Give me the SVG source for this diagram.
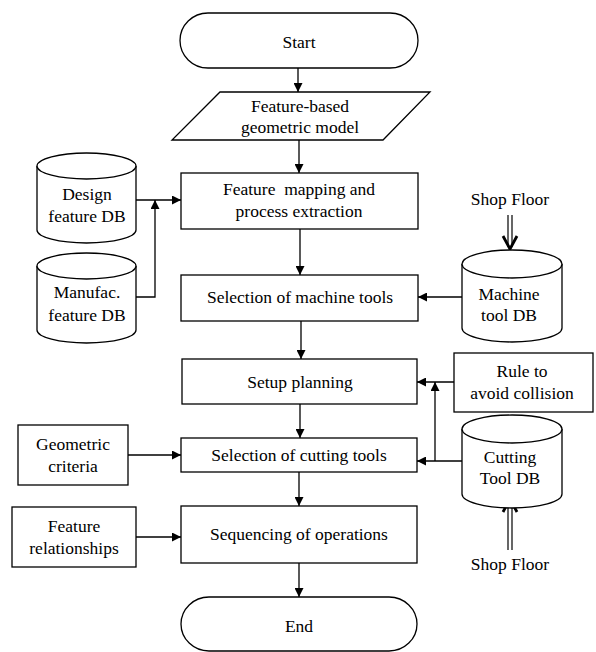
<svg xmlns="http://www.w3.org/2000/svg" width="596" height="652" viewBox="0 0 596 652">
<defs>
<marker id="ah" viewBox="0 0 10 10" refX="10" refY="5" markerWidth="9" markerHeight="9" markerUnits="userSpaceOnUse" orient="auto">
<path d="M0,0 L10,5 L0,10 z" fill="#000"/>
</marker>
</defs>
<style>
.s{fill:#fff;stroke:#000;stroke-width:1.3}
text{font-family:'Liberation Serif','DejaVu Serif','Times New Roman',serif;font-size:17.5px;fill:#000;text-anchor:middle;white-space:pre}
.c{fill:none;stroke:#000;stroke-width:1.3}
.a{marker-end:url(#ah)}
.d{fill:none;stroke:#000;stroke-width:1.2}
.v{fill:none;stroke:#000;stroke-width:2.8}
</style>
<rect width="596" height="652" fill="#fff"/>
<g id="connectors">
<line class="c a" x1="298" y1="68" x2="298" y2="92"/>
<line class="c a" x1="299" y1="140" x2="299" y2="173"/>
<line class="c a" x1="136" y1="200" x2="181" y2="200"/>
<polyline class="c a" points="136,297 155,297 155,200"/>
<line class="c a" x1="300" y1="229" x2="300" y2="275"/>
<line class="c a" x1="462" y1="297" x2="418" y2="297"/>
<line class="c a" x1="301" y1="321" x2="301" y2="359"/>
<line class="c a" x1="454" y1="382" x2="417" y2="382"/>
<line class="c a" x1="300" y1="404" x2="300" y2="438"/>
<line class="c a" x1="462" y1="461" x2="417" y2="461"/>
<polyline class="c a" points="435,461 435,382"/>
<line class="c a" x1="128" y1="455" x2="181" y2="455"/>
<line class="c a" x1="299" y1="472" x2="299" y2="506"/>
<line class="c a" x1="136" y1="537" x2="181" y2="537"/>
<line class="c a" x1="299" y1="563" x2="299" y2="597"/>
<line class="d" x1="508" y1="215" x2="508" y2="247"/>
<line class="d" x1="512" y1="215" x2="512" y2="247"/>
<polyline class="v" points="503,236 510,249 517,236"/>
<line class="d" x1="508" y1="550" x2="508" y2="502"/>
<line class="d" x1="512" y1="550" x2="512" y2="502"/>
<polyline class="v" points="503,512 510,499 517,512"/>
</g>
<g id="start">
<rect class="s" x="180" y="13" width="238" height="55" rx="28" ry="27.5"/>
<text x="299" y="48">Start</text>
</g>
<g id="model">
<polygon class="s" points="220,92 430,92 383,140 172,140"/>
<text x="300" y="112">Feature-based</text>
<text x="300" y="133">geometric model</text>
</g>
<g id="mapping">
<rect class="s" x="181" y="173" width="237" height="56"/>
<text x="299" y="195">Feature  mapping and</text>
<text x="299" y="217">process extraction</text>
</g>
<g id="designdb">
<path class="s" d="M37,166 L37,230 A49.5,13 0 0 0 136,230 L136,166"/>
<ellipse class="s" cx="86.5" cy="166" rx="49.5" ry="13"/>
<text x="87" y="200">Design</text>
<text x="87" y="222">feature DB</text>
</g>
<g id="manufdb">
<path class="s" d="M37,266 L37,330 A49.5,13 0 0 0 136,330 L136,266"/>
<ellipse class="s" cx="86.5" cy="266" rx="49.5" ry="13"/>
<text x="87" y="298">Manufac.</text>
<text x="87" y="321">feature DB</text>
</g>
<g id="machine">
<rect class="s" x="181" y="275" width="237" height="46"/>
<text x="300" y="303">Selection of machine tools</text>
</g>
<g id="shopfloor1">
<text x="510" y="205">Shop Floor</text>
</g>
<g id="machinedb">
<path class="s" d="M462,264 L462,328 A50,14 0 0 0 562,328 L562,264"/>
<ellipse class="s" cx="512" cy="264" rx="50" ry="14"/>
<text x="509" y="300">Machine</text>
<text x="509" y="321">tool DB</text>
</g>
<g id="setup">
<rect class="s" x="182" y="359" width="235" height="45"/>
<text x="300" y="388">Setup planning</text>
</g>
<g id="rule">
<rect class="s" x="454" y="353" width="139" height="59"/>
<text x="522" y="377">Rule to</text>
<text x="522" y="399">avoid collision</text>
</g>
<g id="cutting">
<rect class="s" x="181" y="438" width="236" height="34"/>
<text x="299" y="461">Selection of cutting tools</text>
</g>
<g id="cuttingdb">
<path class="s" d="M462,429 L462,494 A50,14 0 0 0 562,494 L562,429"/>
<ellipse class="s" cx="512" cy="429" rx="50" ry="14"/>
<text x="510" y="463">Cutting</text>
<text x="510" y="484">Tool DB</text>
</g>
<g id="geometric">
<rect class="s" x="18" y="425" width="110" height="60"/>
<text x="73" y="450">Geometric</text>
<text x="73" y="472">criteria</text>
</g>
<g id="relationships">
<rect class="s" x="12" y="507" width="124" height="60"/>
<text x="74" y="532">Feature</text>
<text x="74" y="554">relationships</text>
</g>
<g id="sequencing">
<rect class="s" x="181" y="506" width="236" height="57"/>
<text x="299" y="540">Sequencing of operations</text>
</g>
<g id="shopfloor2">
<text x="510" y="570">Shop Floor</text>
</g>
<g id="end">
<rect class="s" x="181" y="597" width="236" height="54" rx="28" ry="27"/>
<text x="299" y="632">End</text>
</g>
</svg>
